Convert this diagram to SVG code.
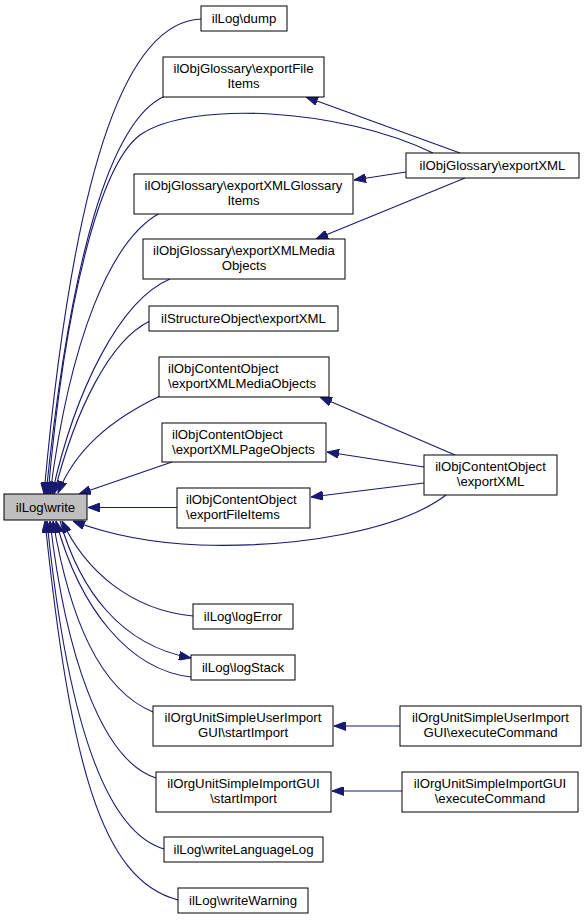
<svg xmlns="http://www.w3.org/2000/svg" width="585" height="920" viewBox="0 0 585 920">
<style>
.n rect{fill:#ffffff;stroke:#000000;stroke-width:1}
.n text{font-family:"Liberation Sans",Arial,sans-serif;font-size:13.2px;fill:#000000}
.c{text-anchor:middle}
.e path{fill:none;stroke:#191970;stroke-width:1.1;marker-end:url(#ah)}
</style>
<defs>
<marker id="ah" viewBox="0 0 12 9" refX="12" refY="4.5" markerWidth="12" markerHeight="9" orient="auto" markerUnits="userSpaceOnUse">
<path d="M0,0 L12,4.5 L0,9 z" fill="#191970" stroke="#191970" stroke-width="1"/>
</marker>
</defs>
<rect width="585" height="920" fill="#ffffff"/>
<g id="connectors" class="e">
<path d="M201,19 C130,22 75,150 44,494"/>
<path d="M165,96 C110,120 70,260 46,494"/>
<path d="M433,153 C340,108 190,100 140,135 C100,165 65,300 48,494"/>
<path d="M160,213 C110,240 70,340 50,494"/>
<path d="M170,279 C120,300 75,390 52,494"/>
<path d="M150,321 C110,340 75,410 54,494"/>
<path d="M160,396 C110,420 75,450 58,493"/>
<path d="M172,462 L79,494"/>
<path d="M177,507.5 L88,507.5"/>
<path d="M446,495 C400,530 300,548 200,545 C150,543 110,535 73,521"/>
<path d="M460,153 L306,97"/>
<path d="M406,172 L354,180"/>
<path d="M465,178 L316,239"/>
<path d="M455,455 L320,397"/>
<path d="M424,467 L327,452"/>
<path d="M424,483 L311,497"/>
<path d="M193,616 C130,610 85,570 62,521"/>
<path d="M191,677 C130,670 80,610 56,521"/>
<path d="M60,521 C80,590 120,645 191,658"/>
<path d="M153,712 C100,690 70,620 53,521"/>
<path d="M156,778 C100,760 65,650 50,521"/>
<path d="M164,849 C100,830 65,700 47,521"/>
<path d="M178,900 C100,880 70,760 45,521"/>
<path d="M400,726 L334,726"/>
<path d="M402,791 L332,791"/>
</g>
<g id="write" class="n"><rect x="4" y="494" width="83" height="26" style="fill:#bfbfbf"/><text class="c" x="45.5" y="511.5">ilLog\write</text></g>
<g id="dump" class="n"><rect x="201" y="6" width="86" height="25"/><text class="c" x="244" y="23">ilLog\dump</text></g>
<g id="gFileItems" class="n"><rect x="163" y="57" width="161" height="40"/><text class="c" x="243.5" y="73">ilObjGlossary\exportFile</text><text class="c" x="243.5" y="88">Items</text></g>
<g id="gExportXML" class="n"><rect x="406" y="153" width="173" height="25"/><text class="c" x="492.5" y="170">ilObjGlossary\exportXML</text></g>
<g id="gGlossaryItems" class="n"><rect x="134" y="174" width="219" height="40"/><text class="c" x="243.5" y="190">ilObjGlossary\exportXMLGlossary</text><text class="c" x="243.5" y="205">Items</text></g>
<g id="gMediaObjects" class="n"><rect x="143" y="239" width="202" height="40"/><text class="c" x="244" y="255">ilObjGlossary\exportXMLMedia</text><text class="c" x="244" y="270">Objects</text></g>
<g id="sExportXML" class="n"><rect x="149" y="306" width="189" height="25"/><text class="c" x="243.5" y="323">ilStructureObject\exportXML</text></g>
<g id="cMediaObjects" class="n"><rect x="159" y="357" width="170" height="40"/><text x="168" y="373">ilObjContentObject</text><text x="168" y="388">\exportXMLMediaObjects</text></g>
<g id="cPageObjects" class="n"><rect x="162" y="423" width="164" height="39"/><text x="172" y="439">ilObjContentObject</text><text x="172" y="454">\exportXMLPageObjects</text></g>
<g id="cFileItems" class="n"><rect x="177" y="488" width="133" height="40"/><text x="186" y="504">ilObjContentObject</text><text x="186" y="519">\exportFileItems</text></g>
<g id="cExportXML" class="n"><rect x="424" y="455" width="133" height="40"/><text class="c" x="490.5" y="471">ilObjContentObject</text><text class="c" x="490.5" y="486">\exportXML</text></g>
<g id="logError" class="n"><rect x="193" y="604" width="100" height="25"/><text class="c" x="243" y="621">ilLog\logError</text></g>
<g id="logStack" class="n"><rect x="191" y="655" width="104" height="25"/><text class="c" x="243" y="672">ilLog\logStack</text></g>
<g id="uStart" class="n"><rect x="153" y="706" width="180" height="40"/><text class="c" x="243" y="722">ilOrgUnitSimpleUserImport</text><text class="c" x="243" y="737">GUI\startImport</text></g>
<g id="uExec" class="n"><rect x="400" y="706" width="181" height="40"/><text class="c" x="490.5" y="722">ilOrgUnitSimpleUserImport</text><text class="c" x="490.5" y="737">GUI\executeCommand</text></g>
<g id="sStart" class="n"><rect x="156" y="772" width="175" height="40"/><text class="c" x="243.5" y="788">ilOrgUnitSimpleImportGUI</text><text class="c" x="243.5" y="803">\startImport</text></g>
<g id="sExec" class="n"><rect x="402" y="772" width="176" height="40"/><text class="c" x="490" y="788">ilOrgUnitSimpleImportGUI</text><text class="c" x="490" y="803">\executeCommand</text></g>
<g id="wLL" class="n"><rect x="164" y="837" width="159" height="25"/><text class="c" x="243.5" y="854">ilLog\writeLanguageLog</text></g>
<g id="wW" class="n"><rect x="178" y="888" width="130" height="25"/><text class="c" x="243" y="905">ilLog\writeWarning</text></g>
</svg>
